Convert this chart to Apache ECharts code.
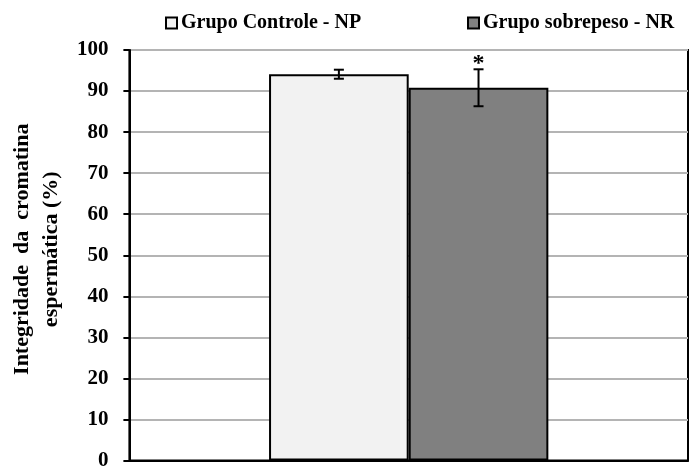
<!DOCTYPE html>
<html><head><meta charset="utf-8">
<script src="https://cdn.jsdelivr.net/npm/echarts@6/dist/echarts.min.js"></script>
<style>html,body{margin:0;padding:0;background:#fff}#c{width:692px;height:471px}</style>
</head><body><div id="c"></div>
<script>
var categories = [''];
var seriesNames = ['Grupo Controle - NP', 'Grupo sobrepeso - NR'];
var means = [94.1, 90.8];
var errors = [1.1, 4.5];
var marks = ['', '*'];
var yTicks = [0, 10, 20, 30, 40, 50, 60, 70, 80, 90, 100];
var yTitle = 'Integridade  da  cromatina\nespermática (%)';
var colors = ['#f2f2f2', '#808080'];
var font = '"Liberation Serif", "Times New Roman", serif';

var chart = echarts.init(document.getElementById('c'));
var series = seriesNames.map(function (n, i) {
  return {
    name: n, type: 'bar', data: [means[i]], barWidth: '25%', barGap: '0%',
    itemStyle: { color: colors[i], borderColor: '#000', borderWidth: 2 },
    z: 2
  };
});
series.push({
  type: 'custom', name: 'err', z: 5,
  data: means.map(function (m, i) { return [i, m - errors[i], m + errors[i]]; }),
  renderItem: function (params, api) {
    var i = api.value(0);
    var lo = api.coord([0, api.value(1)]);
    var hi = api.coord([0, api.value(2)]);
    var band = api.size([1, 0])[0];
    var x = lo[0] + (i === 0 ? -band * 0.125 : band * 0.125);
    var cap = 5;
    var children = [
      { type: 'line', shape: { x1: x, y1: hi[1], x2: x, y2: lo[1] }, style: { stroke: '#000', lineWidth: 2 } },
      { type: 'line', shape: { x1: x - cap, y1: hi[1], x2: x + cap, y2: hi[1] }, style: { stroke: '#000', lineWidth: 2 } },
      { type: 'line', shape: { x1: x - cap, y1: lo[1], x2: x + cap, y2: lo[1] }, style: { stroke: '#000', lineWidth: 2 } }
    ];
    if (marks[i]) {
      children.push({ type: 'text', style: { text: marks[i], x: x, y: hi[1] + 7, align: 'center', verticalAlign: 'bottom', font: 'bold 24px ' + font, fill: '#000' } });
    }
    return { type: 'group', children: children };
  },
  encode: { x: 0, y: [1, 2] }
});

var legendBase = {
  icon: 'rect', itemWidth: 11, itemHeight: 11, top: 8,
  textStyle: { fontFamily: font, fontWeight: 'bold', fontSize: 20, color: '#000', padding: [0, 0, 0, -1] },
  itemStyle: { borderColor: '#000', borderWidth: 2 }
};
chart.setOption({
  animation: false,
  backgroundColor: '#fff',
  legend: [
    Object.assign({}, legendBase, { data: [seriesNames[0]], left: 160 }),
    Object.assign({}, legendBase, { data: [seriesNames[1]], left: 462 })
  ],
  grid: { left: 128, right: 4, top: 50, bottom: 8, show: true, borderColor: '#000', borderWidth: 2, containLabel: false },
  xAxis: {
    type: 'category', data: categories,
    axisLine: { show: true, lineStyle: { color: '#000', width: 2 } },
    axisTick: { show: false }, axisLabel: { show: false }, splitLine: { show: false }
  },
  yAxis: {
    type: 'value', min: yTicks[0], max: yTicks[yTicks.length - 1], interval: 10,
    name: yTitle, nameLocation: 'middle', nameGap: 59, nameRotate: 90,
    nameTextStyle: { fontFamily: font, fontWeight: 'bold', fontSize: 22, color: '#000', lineHeight: 29, padding: [0, 0, 0, 12] },
    axisLine: { show: true, lineStyle: { color: '#000', width: 2 } },
    axisTick: { show: true, inside: false, length: 6, lineStyle: { color: '#000', width: 2 } },
    axisLabel: { fontFamily: font, fontWeight: 'bold', fontSize: 21, color: '#000', margin: 21 },
    splitLine: { show: true, lineStyle: { color: '#b4b4b4', width: 2 } }
  },
  series: series
});
</script></body></html>
